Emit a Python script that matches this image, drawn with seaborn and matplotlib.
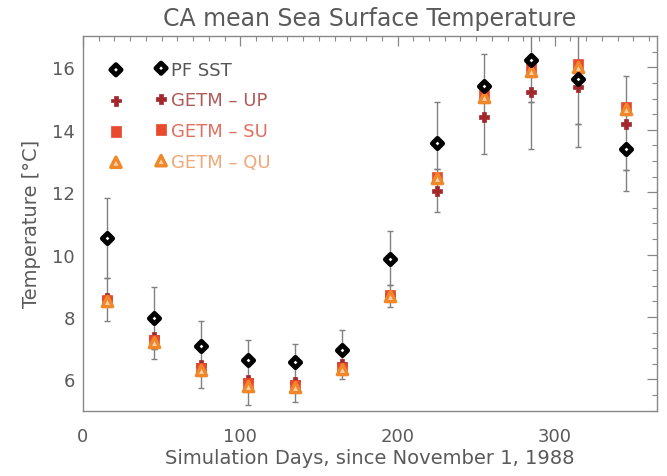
import numpy as np
import pandas as pd
import matplotlib
matplotlib.use("Agg")
import matplotlib.pyplot as plt
from matplotlib.ticker import MultipleLocator
import seaborn as sns

# ---- data ----
days = [15, 45, 75, 105, 135, 165, 195, 225, 255, 285, 315, 345]
pf_sst = [10.54, 7.97, 7.06, 6.61, 6.56, 6.94, 9.87, 13.58, 15.41, 16.23, 15.62, 13.40]
getm_up = [8.60, 7.35, 6.45, 5.97, 5.92, 6.48, 8.72, 12.04, 14.42, 15.22, 15.36, 14.20]
getm_su = [8.55, 7.25, 6.38, 5.88, 5.82, 6.38, 8.72, 12.50, 15.15, 16.00, 16.10, 14.74]
getm_qu = [8.50, 7.20, 6.31, 5.79, 5.76, 6.32, 8.69, 12.44, 15.06, 15.90, 16.00, 14.68]
bar_lo = [7.86, 6.65, 5.72, 5.19, 5.27, 6.02, 8.32, 11.37, 13.21, 13.40, 13.46, 12.04]
bar_hi = [11.80, 8.96, 7.86, 7.25, 7.15, 7.60, 10.75, 14.88, 16.42, 17.60, 17.60, 15.73]
bar_mid = [9.25, 6.98, 6.26, 5.97, 5.97, 6.28, 9.02, 12.74, 14.40, 14.88, 14.18, 12.71]
series_names = ["PF SST", "GETM \u2013 UP", "GETM \u2013 SU", "GETM \u2013 QU"]

df = pd.DataFrame({"day": days, "PF": pf_sst, "UP": getm_up, "SU": getm_su, "QU": getm_qu})

sns.set_style("white")
plt.rcParams["font.family"] = ["DejaVu Sans"]

fig = plt.figure(figsize=(6.67, 4.77), dpi=100)
ax = fig.add_axes([0.1244, 0.137, 0.8606, 0.785])

gray_txt = "#5a5a5a"
err_col = "#808080"

pf = np.array(pf_sst)
lo = np.array(bar_lo)
hi = np.array(bar_hi)
ax.errorbar(days, pf, yerr=[pf - lo, hi - pf], fmt="none", ecolor=err_col,
            elinewidth=1.0, capsize=2.5, capthick=1.0, zorder=1)
ax.errorbar(days, bar_mid, yerr=np.zeros(len(days)), fmt="none", ecolor=err_col,
            elinewidth=1.0, capsize=2.5, capthick=1.0, zorder=1)

styles = [
    ("UP", "P", "#a3282c", "#a3282c", 50, 0.5, series_names[1]),
    ("SU", "s", "#e84a2e", "#e84a2e", 60, 0.5, series_names[2]),
    ("QU", "^", "#fbd2a8", "#f0882a", 55, 2.4, series_names[3]),
    ("PF", "D", "white", "black", 28, 3.4, series_names[0]),
]
for col, mk, fc, ec, s, lw, lab in styles:
    sns.scatterplot(data=df, x="day", y=col, marker=mk, s=s, ax=ax,
                    facecolor=fc, edgecolor=ec, linewidth=lw, zorder=3, label=lab)

ax.set_xlim(0, 365)
ax.set_ylim(5, 17)
ax.xaxis.set_major_locator(MultipleLocator(100))
ax.xaxis.set_minor_locator(MultipleLocator(10))
ax.yaxis.set_major_locator(MultipleLocator(2))
ax.yaxis.set_minor_locator(MultipleLocator(0.5))
ax.tick_params(which="both", direction="in", top=True, right=True,
               colors="#888888", labelcolor=gray_txt, labelsize=13)
ax.tick_params(which="major", length=7, width=0.9)
ax.tick_params(which="minor", length=3.5, width=0.8)
ax.tick_params(axis="x", pad=12)
ax.tick_params(axis="y", pad=6)
for sp in ax.spines.values():
    sp.set_color("#888888")
    sp.set_linewidth(1.0)

ax.set_xlabel("Simulation Days, since November 1, 1988", fontsize=14, color=gray_txt, labelpad=2)
ax.set_ylabel("Temperature [\u00b0C]", fontsize=14, color=gray_txt, labelpad=8)
ax.set_title("CA mean Sea Surface Temperature", fontsize=17, color=gray_txt, pad=8)

h, l = ax.get_legend_handles_labels()
order = [l.index(n) for n in series_names]
leg = ax.legend([h[i] for i in order], [l[i] for i in order], loc="upper left",
                bbox_to_anchor=(0.048, 0.935), borderaxespad=0, borderpad=0,
                frameon=False, scatterpoints=2, handlelength=3.1, handletextpad=0.25,
                labelspacing=0.71, fontsize=13)
txt_cols = ["#555555", "#b05a5a", "#e07060", "#f0a878"]
for t, c in zip(leg.get_texts(), txt_cols):
    t.set_color(c)

fig.savefig("out.png", dpi=100)
